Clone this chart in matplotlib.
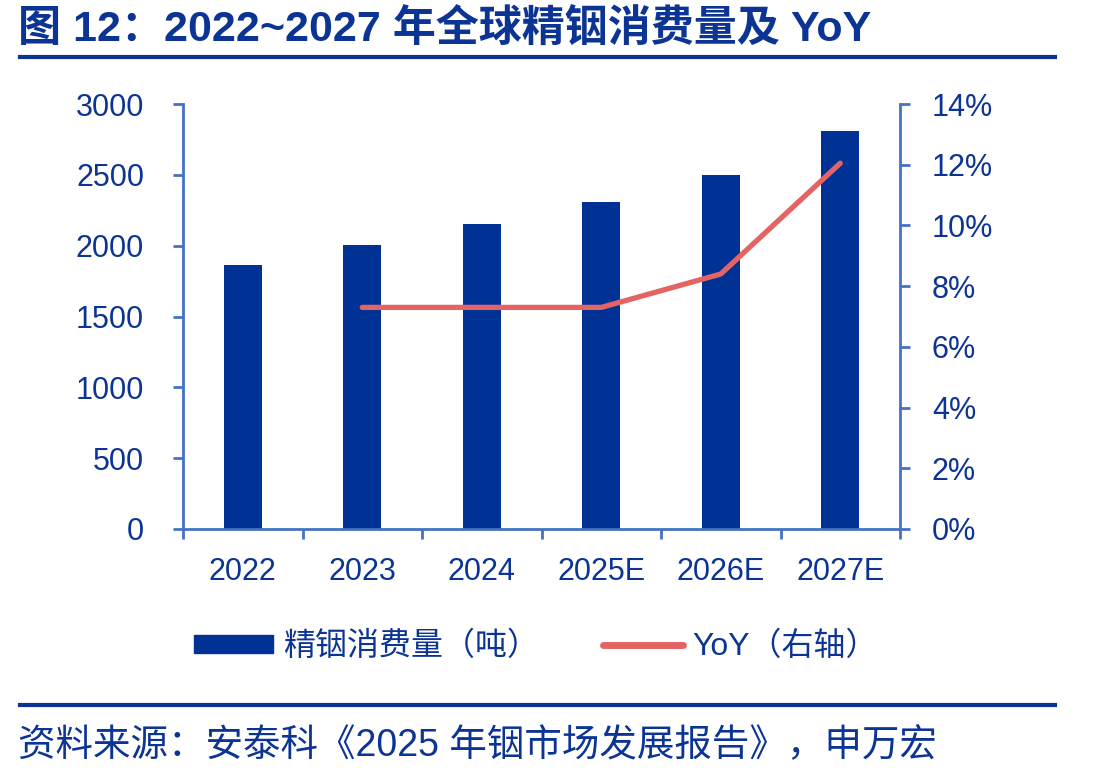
import matplotlib
matplotlib.use("Agg")
import matplotlib.pyplot as plt
from matplotlib.lines import Line2D
from matplotlib.patches import Patch
import numpy as np

# data
years = ["2022", "2023", "2024", "2025E", "2026E", "2027E"]
consumption = [1865, 2005, 2155, 2310, 2500, 2810]  # 吨
yoy_years = ["2023", "2024", "2025E", "2026E", "2027E"]
yoy = [7.3, 7.3, 7.3, 8.4, 12.05]  # %

left_ticks = [0, 500, 1000, 1500, 2000, 2500, 3000]
right_ticks = [0, 2, 4, 6, 8, 10, 12, 14]

TXT = "#0B3494"
BAR = "#003296"
LINE = "#E46464"
AX = "#4472C4"
FAM = ["Liberation Sans", "Noto Sans CJK SC", "DejaVu Sans"]

plt.rcParams["font.family"] = FAM

fig = plt.figure(figsize=(11, 7.81), dpi=100)
ax = fig.add_axes((183 / 1100, 1 - 529 / 781, (900 - 183) / 1100, (529 - 104) / 781))
ax2 = ax.twinx()

x = np.arange(len(years))
ax.bar(x, consumption, width=0.32, color=BAR, zorder=2)
ax.set_xlim(-0.5, len(years) - 0.5)
ax.set_ylim(0, 3000)
ax.set_yticks(left_ticks)
ax.set_yticklabels([str(t) for t in left_ticks])

xi = [years.index(y) for y in yoy_years]
ax2.plot(xi, yoy, color=LINE, lw=3.8, solid_capstyle="round", zorder=3)
ax2.set_ylim(0, 14)
ax2.set_yticks(right_ticks)
ax2.set_yticklabels([f"{t}%" for t in right_ticks])

# category labels centred, ticks at boundaries
ax.set_xticks(np.arange(-0.5, len(years)))
ax.set_xticklabels([])
ax.set_xticks(x, minor=True)
ax.set_xticklabels(years, minor=True)
ax.tick_params(axis="x", which="major", length=7, width=2, color=AX, direction="out")
ax.tick_params(axis="x", which="minor", length=0, pad=20, labelsize=22, labelcolor=TXT)
ax.tick_params(axis="y", length=7, width=2, color=AX, direction="out", pad=21,
               labelsize=22, labelcolor=TXT)
ax2.tick_params(axis="y", length=7, width=2, color=AX, direction="out", pad=16,
                labelsize=22, labelcolor=TXT)

for a in (ax, ax2):
    for s in a.spines.values():
        s.set_visible(False)
    a.patch.set_visible(False)
ax.spines["left"].set_visible(True)
ax.spines["bottom"].set_visible(True)
ax2.spines["right"].set_visible(True)
for s in (ax.spines["left"], ax.spines["bottom"], ax2.spines["right"]):
    s.set_color(AX)
    s.set_linewidth(2)

handles = [Patch(color=BAR), Line2D([], [], color=LINE, lw=5, solid_capstyle="round")]
fig.legend(handles, ["精铟消费量（吨）", "YoY（右轴）"], loc="center",
           bbox_to_anchor=(0.487, 1 - 647 / 781), ncol=2, frameon=False,
           fontsize=23, labelcolor=TXT, handlelength=2.5, handleheight=0.5,
           handletextpad=0.3, columnspacing=2.0)

# title, rules and source
fig.text(18 / 1100, 1 - 30 / 781, "图 12：2022~2027 年全球精铟消费量及 YoY",
         fontsize=31, fontweight="bold", color=TXT, va="center", ha="left")
fig.add_artist(Line2D([20 / 1100, 1055 / 1100], [1 - 57 / 781] * 2, color=TXT, lw=3))
fig.add_artist(Line2D([20 / 1100, 1055 / 1100], [1 - 705 / 781] * 2, color=TXT, lw=3))
fig.text(18 / 1100, 1 - 746 / 781, "资料来源：安泰科《2025 年铟市场发展报告》，申万宏",
         fontsize=27, color=TXT, va="center", ha="left")

fig.savefig("out.png", dpi=100)
